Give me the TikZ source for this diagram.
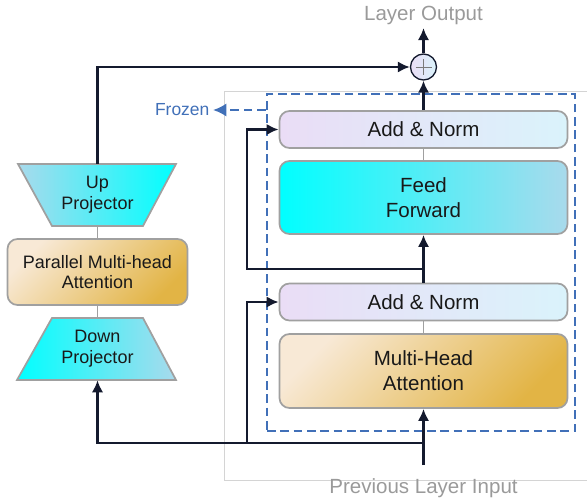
\documentclass[tikz,border=0pt]{standalone}
\usepackage{fontspec}
\setmainfont{Liberation Sans}
\usetikzlibrary{arrows.meta}

\definecolor{navy}{HTML}{141A2E}
\definecolor{edgegray}{HTML}{A0A0A0}
\definecolor{lavender}{HTML}{EADDF6}
\definecolor{paleaqua}{HTML}{DAF3FB}
\definecolor{aqua}{HTML}{00FFFF}
\definecolor{skyblue}{HTML}{A9DAEC}
\definecolor{beige}{HTML}{F8E9D6}
\definecolor{gold}{HTML}{E2B445}
\definecolor{frzblue}{HTML}{4170B8}
\definecolor{labelgray}{HTML}{9A9A9A}
\definecolor{framegray}{HTML}{D4D4D4}

\newcommand\mainfs{\fontsize{15.4}{18.75}\selectfont}
\newcommand\sidefs{\fontsize{13.5}{15.5}\selectfont}

% one drawing unit is 0.75pt
\tikzset{
  block/.style={draw=edgegray, line width=1.3pt, rounded corners=7.5pt,
    inner sep=0, minimum width=216pt, minimum height=#1, align=center,
    text=black!90, font=\mainfs},
  addnorm/.style={block=27.75pt, left color=lavender, right color=paleaqua},
  ffbox/.style={block=54.75pt, left color=aqua, right color=skyblue},
  attbox/.style={block=55.5pt, top color=beige, bottom color=gold, shading angle=45},
  projtext/.style={inner sep=0, minimum width=66pt, minimum height=46.5pt,
    align=center, font=\sidefs, text=black!90},
  projedge/.style={draw=edgegray, line width=1.3pt, line join=miter},
  flow/.style={draw=navy, line width=2.1pt, -{Latex[length=9pt,width=8.5pt]}},
  link/.style={draw=edgegray, line width=1.3pt},
  frzline/.style={draw=frzblue, line width=2.2pt, dash pattern=on 6.5pt off 3.5pt},
  caption/.style={font=\mainfs, text=labelgray, inner sep=0},
}

\begin{document}
\begin{tikzpicture}[x=0.75pt, y=-0.75pt]
\useasboundingbox (0,0) rectangle (587,500);

% light frame around the transformer layer
\draw[framegray, line width=0.6pt] (224,91) -- (600,91)
  (224,91) -- (224,480) -- (600,480);

% frozen region
\node[frzline, minimum width=231pt, minimum height=252.75pt, inner sep=0]
  (frz) at (421,262.5) {};
\node[font=\fontsize{13.1}{15}\selectfont, text=frzblue, anchor=east, inner sep=2.5pt]
  (frozen) at (213,110) {Frozen};
\draw[frzline, -{Latex[length=10pt,width=10pt]}]
  (frz.west |- frozen.east) -- (frozen.east);

% transformer layer
\node[addnorm] (an2) at (423.5,129.5) {Add \& Norm};
\node[ffbox]   (ff)  at (423.5,197.5) {Feed\\Forward};
\node[addnorm] (an1) at (423.5,302)   {Add \& Norm};
\node[attbox]  (mha) at (423.5,371)   {Multi-Head\\Attention};

% adapter branch
\draw[projedge, left color=skyblue, right color=aqua]
  (18,164) -- (176,164) -- (143,226) -- (52,226) -- cycle;
\node[projtext] (up) at (97.5,195) {Up\\Projector};
\node[block=49.5pt, minimum width=135pt, font=\sidefs, top color=beige,
  bottom color=gold, shading angle=45] (pma) at (97.5,272)
  {Parallel Multi-head\\Attention};
\draw[projedge, left color=aqua, right color=skyblue]
  (52,318) -- (143,318) -- (176,380) -- (17,380) -- cycle;
\node[projtext] (down) at (97.5,349) {Down\\Projector};

% sum node
\node[circle, draw=navy, line width=1pt, minimum size=19.5pt, inner sep=0,
  left color=lavender, right color=paleaqua] (plus) at (423.5,67) {};
\draw[labelgray!80!black, line width=0.6pt]
  (plus.center) ++(-8,0) -- ++(16,0) (plus.center) ++(0,-8) -- ++(0,16);

% captions
\node[caption] (lout) at (423.5,15) {Layer Output};
\node[caption] (lin)  at (423.5,488) {Previous Layer Input};

% grey links between stacked blocks
\draw[link] (an2.south) -- (ff.north);
\draw[link] (an1.south) -- (mha.north);
\draw[link] (up.south) -- (pma.north);
\draw[link] (pma.south) -- (down.north);

% data flow
\coordinate (src)  at (423.5,465);
\coordinate (fork) at (423.5,443);
\coordinate (res2) at (423.5,269);
\coordinate (outtip) at (423.5,28);

\draw[flow] (src) -- (mha.south);
\draw[flow] (fork) -- (247,443) |- (an1.west);
\draw[flow] (fork) -| (down.south);
\draw[flow] (an1.north) -- (ff.south);
\draw[flow] (res2) -- (247,269) |- (an2.west);
\draw[flow] (an2.north) -- (plus.south);
\draw[flow] (up.north) |- (plus.west);
\draw[flow] (plus.north) -- (outtip);
\end{tikzpicture}
\end{document}
